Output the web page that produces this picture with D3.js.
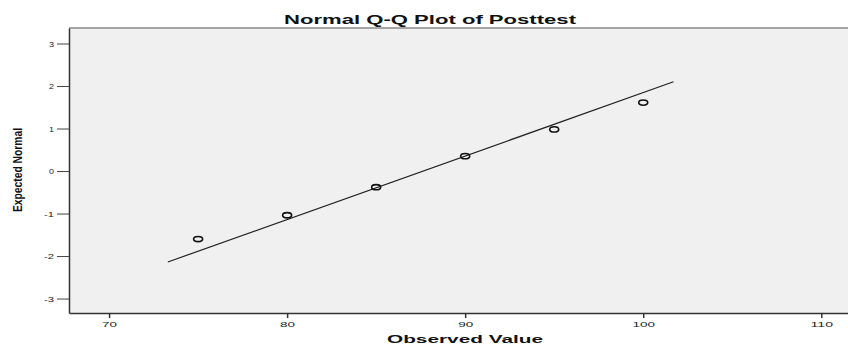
<!DOCTYPE html>
<html>
<head>
<meta charset="utf-8">
<script src="https://cdn.jsdelivr.net/npm/d3@7"></script>
<style>
  body { margin: 0; background: #fff; }
  text { font-family: "Liberation Sans", Arial, sans-serif; }
</style>
</head>
<body>
<div id="chart"></div>
<script>
// observed values and their expected normal scores
var observed = [75, 80, 85, 90, 95, 100];
var expected = [-1.60, -1.04, -0.38, 0.35, 0.98, 1.61];

// reference line end points
var lineX = [73.3, 101.7];
var lineY = [-2.14, 2.10];

var xTicks = [70, 80, 90, 100, 110];
var yTicks = [-3, -2, -1, 0, 1, 2, 3];

var W = 848, H = 345;
var margin = {top: 28, right: 0, bottom: 32, left: 69};

var svg = d3.select("#chart").append("svg")
    .attr("width", W)
    .attr("height", H);

// set the scales
var x = d3.scaleLinear()
  .domain([67.75, 111.5])
  .range([margin.left, W - margin.right]);

var y = d3.scaleLinear()
  .domain([-3.34, 3.365])
  .range([H - margin.bottom, margin.top]);

// plot background
svg.append("rect")
  .attr("x", margin.left)
  .attr("y", margin.top)
  .attr("width", W - margin.left - margin.right + 1)
  .attr("height", H - margin.top - margin.bottom)
  .attr("fill", "#f0f0f0");

// top frame line
svg.append("line")
  .attr("x1", margin.left).attr("x2", W)
  .attr("y1", margin.top).attr("y2", margin.top)
  .attr("stroke", "#8a8a8a").attr("stroke-width", 1.5);

// x axis
var xAxis = svg.append("g")
  .attr("transform", "translate(0," + (H - margin.bottom) + ")")
  .call(d3.axisBottom(x).tickValues(xTicks).tickSize(5).tickPadding(3).tickSizeOuter(0));
xAxis.select(".domain").attr("stroke", "#333").attr("stroke-width", 1.5);
xAxis.selectAll(".tick line").attr("stroke", "#333").attr("stroke-width", 1.5);
xAxis.selectAll(".tick text")
  .attr("font-size", "8px")
  .attr("fill", "#222")
  .attr("textLength", function (d) { return String(d).length * 7.5; })
  .attr("lengthAdjust", "spacingAndGlyphs");

// y axis
var yAxis = svg.append("g")
  .attr("transform", "translate(" + margin.left + ",0)")
  .call(d3.axisLeft(y).tickValues(yTicks).tickSize(12).tickPadding(3).tickSizeOuter(0));
yAxis.select(".domain").attr("stroke", "#333").attr("stroke-width", 1.5);
yAxis.selectAll(".tick line").attr("stroke", "#444").attr("stroke-width", 1);
yAxis.selectAll(".tick text")
  .attr("font-size", "8px")
  .attr("fill", "#222")
  .text(function (d) { return d; })
  .attr("textLength", function (d) { return String(d).length * 5; })
  .attr("lengthAdjust", "spacingAndGlyphs");

// reference line
svg.append("line")
  .attr("x1", x(lineX[0])).attr("y1", y(lineY[0]))
  .attr("x2", x(lineX[1])).attr("y2", y(lineY[1]))
  .attr("stroke", "#222")
  .attr("stroke-width", 1.2);

// points
svg.selectAll(".pt")
  .data(observed)
  .enter().append("ellipse")
    .attr("class", "pt")
    .attr("cx", function (d) { return x(d); })
    .attr("cy", function (d, i) { return y(expected[i]); })
    .attr("rx", 4.5)
    .attr("ry", 2.6)
    .attr("fill", "none")
    .attr("stroke", "#111")
    .attr("stroke-width", 1.6);

// title
svg.append("text")
  .attr("x", 430)
  .attr("y", 24)
  .attr("text-anchor", "middle")
  .attr("font-size", "12.5px")
  .attr("font-weight", "bold")
  .attr("fill", "#111")
  .attr("textLength", 292)
  .attr("lengthAdjust", "spacingAndGlyphs")
  .text("Normal Q-Q Plot of Posttest");

// x axis label
svg.append("text")
  .attr("x", 465)
  .attr("y", 343)
  .attr("text-anchor", "middle")
  .attr("font-size", "11px")
  .attr("font-weight", "bold")
  .attr("fill", "#111")
  .attr("textLength", 156)
  .attr("lengthAdjust", "spacingAndGlyphs")
  .text("Observed Value");

// y axis label
svg.append("text")
  .attr("transform", "translate(22,170) rotate(-90)")
  .attr("text-anchor", "middle")
  .attr("font-size", "12px")
  .attr("font-weight", "bold")
  .attr("fill", "#111")
  .attr("textLength", 84)
  .attr("lengthAdjust", "spacingAndGlyphs")
  .text("Expected Normal");
</script>
</body>
</html>
